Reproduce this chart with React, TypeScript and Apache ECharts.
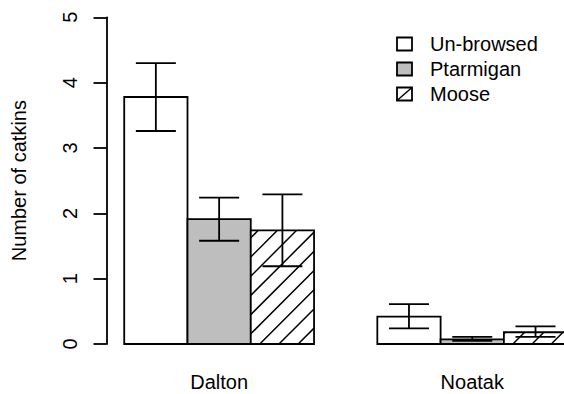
import React, { useEffect, useRef } from "react";
import * as echarts from "echarts";

// ---- data ----
const categories = ["Dalton", "Noatak"];
const seriesNames = ["Un-browsed", "Ptarmigan", "Moose"];
const meanUnbrowsed = [3.78, 0.42];
const lowUnbrowsed = [3.26, 0.24];
const highUnbrowsed = [4.3, 0.61];
const meanPtarmigan = [1.91, 0.07];
const lowPtarmigan = [1.58, 0.05];
const highPtarmigan = [2.24, 0.11];
const meanMoose = [1.74, 0.18];
const lowMoose = [1.19, 0.11];
const highMoose = [2.29, 0.27];
const yTicks = [0, 1, 2, 3, 4, 5];

const means = [meanUnbrowsed, meanPtarmigan, meanMoose];
const lows = [lowUnbrowsed, lowPtarmigan, lowMoose];
const highs = [highUnbrowsed, highPtarmigan, highMoose];

// barplot layout (R style: bar width 1, space 1 before each group)
const barWidthUnits = 1;
const groupSpace = 1;
const nSeries = seriesNames.length;
const groupStart = (g: number) => groupSpace + g * (nSeries * barWidthUnits + groupSpace);
const xMinUnits = groupStart(0);
const xMaxUnits = groupStart(categories.length - 1) + nSeries * barWidthUnits;
const xPad = (xMaxUnits - xMinUnits) * 0.04;
// the original figure is cropped on the right: visible x range ends before the plot region
const xViewMax = 7.95;

const FONT = "'Liberation Sans', Arial, Helvetica, sans-serif";
const fills = ["#ffffff", "#bebebe", "#ffffff"];
const hatched = [false, false, true];

function hatchLines(xL: number, xR: number, yT: number, yB: number) {
  const spacing = 19.2;
  const base = xL + yB + 9;
  const cStart = xL + yT;
  const cEnd = xR + yB;
  const kMin = Math.ceil((cStart - base) / spacing);
  const kMax = Math.floor((cEnd - base) / spacing);
  const out: any[] = [];
  for (let k = kMin; k <= kMax; k++) {
    const c = base + k * spacing;
    const xa = Math.max(xL, c - yB);
    const xb = Math.min(xR, c - yT);
    if (xb - xa > 0.3) {
      out.push({
        type: "line",
        shape: { x1: xa, y1: c - xa, x2: xb, y2: c - xb },
        style: { stroke: "#000", lineWidth: 1.5 },
      });
    }
  }
  return out;
}

export default function App() {
  const ref = useRef<HTMLDivElement>(null);
  useEffect(() => {
    if (!ref.current) return;
    const chart = echarts.init(ref.current, undefined, { renderer: "svg" });

    const series = seriesNames.map((name, s) => ({
      type: "custom",
      name,
      clip: false,
      encode: { x: 0, y: 1 },
      data: categories.map((_, g) => [
        groupStart(g) + s * barWidthUnits,
        means[s][g],
        lows[s][g],
        highs[s][g],
      ]),
      renderItem: (params: any, api: any) => {
        const x0 = api.value(0);
        const v = api.value(1);
        const lo = api.value(2);
        const hi = api.value(3);
        const p0 = api.coord([x0, 0]);
        const p1 = api.coord([x0 + barWidthUnits, v]);
        const xL = p0[0], xR = p1[0], yB = p0[1], yT = p1[1];
        const children: any[] = [
          {
            type: "rect",
            shape: { x: xL, y: yT, width: xR - xL, height: yB - yT },
            style: { fill: fills[s], stroke: "none" },
          },
        ];
        if (hatched[s]) children.push(...hatchLines(xL, xR, yT, yB));
        children.push({
          type: "rect",
          shape: { x: xL, y: yT, width: xR - xL, height: yB - yT },
          style: { fill: "none", stroke: "#000", lineWidth: 1.8 },
        });
        const xc = api.coord([x0 + barWidthUnits / 2, 0])[0];
        const yHi = api.coord([x0, hi])[1];
        const yLo = api.coord([x0, lo])[1];
        const cap = 20;
        const es = { stroke: "#000", lineWidth: 1.8 };
        children.push(
          { type: "line", shape: { x1: xc, y1: yHi, x2: xc, y2: yLo }, style: es },
          { type: "line", shape: { x1: xc - cap, y1: yHi, x2: xc + cap, y2: yHi }, style: es },
          { type: "line", shape: { x1: xc - cap, y1: yLo, x2: xc + cap, y2: yLo }, style: es }
        );
        return { type: "group", children };
      },
    }));

    // legend drawn as graphic from series names
    const legendX = 397;
    const legendY0 = 44;
    const legendStep = 25;
    const boxW = 15;
    const boxH = 13;
    const legendGraphics: any[] = [];
    seriesNames.forEach((name, s) => {
      const cy = legendY0 + s * legendStep;
      legendGraphics.push({
        type: "rect",
        shape: { x: legendX, y: cy - boxH / 2, width: boxW, height: boxH },
        style: { fill: fills[s], stroke: "#000", lineWidth: 1.8 },
      });
      if (hatched[s]) {
        legendGraphics.push({
          type: "line",
          shape: { x1: legendX, y1: cy + boxH / 2, x2: legendX + boxW, y2: cy - boxH / 2 },
          style: { stroke: "#000", lineWidth: 1.5 },
        });
      }
      legendGraphics.push({
        type: "text",
        x: 430,
        y: cy,
        style: {
          text: name,
          font: `20px ${FONT}`,
          fill: "#000",
          textVerticalAlign: "middle",
          verticalAlign: "middle",
        },
      });
    });

    chart.setOption({
      animation: false,
      backgroundColor: "#ffffff",
      grid: { left: 106.5, top: 17.3, height: 326.7, right: 0, containLabel: false },
      xAxis: {
        type: "value",
        min: xMinUnits - xPad,
        max: xViewMax,
        axisLine: { show: false },
        axisTick: { show: false },
        splitLine: { show: false },
        axisLabel: {
          customValues: categories.map((_, g) => groupStart(g) + (nSeries * barWidthUnits) / 2),
          formatter: (val: number) => {
            const g = categories.findIndex(
              (_, i) => Math.abs(groupStart(i) + (nSeries * barWidthUnits) / 2 - val) < 1e-6
            );
            return g >= 0 ? categories[g] : "";
          },
          margin: 28,
          fontSize: 20,
          fontFamily: FONT,
          color: "#000",
        },
      },
      yAxis: {
        type: "value",
        min: yTicks[0],
        max: yTicks[yTicks.length - 1],
        interval: 1,
        name: "Number of catkins",
        nameLocation: "middle",
        nameRotate: 90,
        nameGap: 78,
        nameTextStyle: { fontSize: 20, fontFamily: FONT, color: "#000" },
        axisLine: { show: true, lineStyle: { color: "#000", width: 1.8 } },
        axisTick: { show: true, length: 13, lineStyle: { color: "#000", width: 1.8 } },
        splitLine: { show: false },
        axisLabel: {
          rotate: 90,
          margin: 27,
          fontSize: 20,
          fontFamily: FONT,
          color: "#000",
        },
      },
      series,
      graphic: legendGraphics,
    });
    return () => chart.dispose();
  }, []);
  return (
    <div
      ref={ref}
      style={{ position: "fixed", left: 0, top: 0, width: 564, height: 394, background: "#fff" }}
    />
  );
}
